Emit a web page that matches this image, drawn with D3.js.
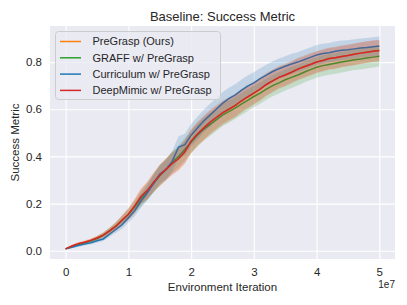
<!DOCTYPE html>
<html><head><meta charset="utf-8">
<script src="https://cdn.jsdelivr.net/npm/d3@7"></script>
<style>body{margin:0;background:#fff}svg{display:block}</style>
</head><body><svg id="c" width="407" height="305"></svg>
<script>
const xSteps = d3.range(51).map(i => i * 1e6);
const seriesNames = ["PreGrasp (Ours)", "GRAFF w/ PreGrasp", "Curriculum w/ PreGrasp", "DeepMimic w/ PreGrasp"];
const seriesColors = ["#ff7f0e", "#2ca02c", "#1f77b4", "#d62728"];
const xTicks = [0, 1e7, 2e7, 3e7, 4e7, 5e7];
const xTickLabels = ["0", "1", "2", "3", "4", "5"];
const yTicks = [0, 0.2, 0.4, 0.6, 0.8];
const yTickLabels = ["0.0", "0.2", "0.4", "0.6", "0.8"];

const orangeMean = [0.008,0.02,0.03,0.036,0.044,0.054,0.066,0.084,0.104,0.13,0.155,0.19,0.23,0.255,0.29,0.32,0.345,0.37,0.39,0.42,0.465,0.495,0.52,0.545,0.565,0.585,0.6,0.615,0.635,0.652,0.668,0.685,0.705,0.72,0.735,0.745,0.757,0.77,0.78,0.79,0.8,0.807,0.815,0.818,0.824,0.828,0.833,0.838,0.842,0.846,0.849];
const orangeSd = [0.003,0.005,0.006,0.007,0.008,0.01,0.012,0.015,0.018,0.022,0.026,0.03,0.034,0.038,0.042,0.046,0.048,0.05,0.051,0.052,0.053,0.053,0.054,0.054,0.053,0.053,0.052,0.052,0.051,0.051,0.05,0.05,0.05,0.049,0.049,0.049,0.048,0.048,0.048,0.048,0.047,0.047,0.047,0.047,0.046,0.046,0.046,0.046,0.046,0.046,0.046];
const greenMean = [0.008,0.018,0.026,0.033,0.042,0.052,0.066,0.085,0.105,0.128,0.155,0.185,0.22,0.25,0.285,0.318,0.345,0.375,0.4,0.43,0.46,0.49,0.515,0.535,0.555,0.575,0.59,0.605,0.622,0.638,0.654,0.668,0.685,0.7,0.712,0.725,0.735,0.745,0.757,0.768,0.778,0.785,0.79,0.795,0.8,0.805,0.81,0.813,0.817,0.821,0.825];
const greenSd = [0.002,0.004,0.005,0.006,0.007,0.009,0.011,0.013,0.016,0.019,0.023,0.027,0.031,0.035,0.039,0.042,0.044,0.045,0.046,0.047,0.047,0.048,0.048,0.048,0.047,0.047,0.047,0.046,0.046,0.046,0.046,0.045,0.045,0.045,0.045,0.045,0.045,0.044,0.044,0.044,0.044,0.044,0.044,0.044,0.044,0.044,0.044,0.044,0.044,0.044,0.044];
const blueMean = [0.008,0.015,0.022,0.028,0.034,0.042,0.05,0.07,0.09,0.11,0.14,0.17,0.21,0.245,0.285,0.325,0.345,0.38,0.44,0.45,0.49,0.52,0.55,0.575,0.6,0.625,0.645,0.66,0.68,0.698,0.712,0.73,0.745,0.76,0.772,0.782,0.792,0.8,0.81,0.82,0.83,0.836,0.84,0.846,0.85,0.852,0.856,0.86,0.862,0.865,0.868];
const blueSd = [0.002,0.004,0.005,0.006,0.007,0.008,0.009,0.011,0.014,0.017,0.02,0.024,0.028,0.032,0.036,0.04,0.042,0.044,0.046,0.046,0.047,0.048,0.048,0.048,0.047,0.047,0.046,0.046,0.045,0.045,0.045,0.044,0.044,0.044,0.043,0.043,0.043,0.042,0.042,0.042,0.042,0.042,0.041,0.041,0.041,0.041,0.041,0.04,0.04,0.04,0.04];
const redMean = [0.008,0.02,0.03,0.036,0.044,0.054,0.066,0.084,0.104,0.13,0.155,0.19,0.23,0.255,0.29,0.32,0.345,0.37,0.39,0.42,0.465,0.495,0.52,0.545,0.565,0.585,0.6,0.615,0.635,0.652,0.668,0.685,0.705,0.72,0.735,0.745,0.757,0.77,0.78,0.79,0.8,0.807,0.815,0.818,0.824,0.828,0.833,0.838,0.842,0.846,0.849];
const redSd = [0.002,0.004,0.005,0.006,0.007,0.009,0.011,0.014,0.017,0.02,0.024,0.028,0.032,0.036,0.04,0.043,0.045,0.046,0.047,0.048,0.048,0.048,0.049,0.049,0.048,0.048,0.047,0.047,0.047,0.046,0.046,0.046,0.046,0.046,0.045,0.045,0.045,0.045,0.045,0.045,0.045,0.045,0.045,0.045,0.045,0.045,0.045,0.045,0.045,0.045,0.045];

const means = [orangeMean, greenMean, blueMean, redMean];
const sds = [orangeSd, greenSd, blueSd, redSd];

const L = 50, R = 395, T = 26, B = 259;
const svg = d3.select("#c");
const x = d3.scaleLinear().domain([-0.25e7, 5.25e7]).range([L, R]);
const y = d3.scaleLinear().domain([-0.035, 0.953]).range([B, T]);
const font = "Liberation Sans, Arial, sans-serif";

svg.append("rect").attr("x", L).attr("y", T).attr("width", R - L).attr("height", B - T).attr("fill", "#eaeaf2");
svg.append("defs").append("clipPath").attr("id", "clip").append("rect")
  .attr("x", L).attr("y", T).attr("width", R - L).attr("height", B - T);

const gx = svg.append("g").attr("transform", `translate(0,${B})`)
  .call(d3.axisBottom(x).tickValues(xTicks).tickFormat((d, i) => xTickLabels[i]).tickSize(-(B - T)).tickPadding(9));
const gy = svg.append("g").attr("transform", `translate(${L},0)`)
  .call(d3.axisLeft(y).tickValues(yTicks).tickFormat((d, i) => yTickLabels[i]).tickSize(-(R - L)).tickPadding(8));
[gx, gy].forEach(g => {
  g.select(".domain").remove();
  g.selectAll(".tick line").attr("stroke", "#ffffff").attr("stroke-width", 1.1);
  g.selectAll(".tick text").attr("fill", "#262626").attr("font-family", font).attr("font-size", 11.5);
});

const plot = svg.append("g").attr("clip-path", "url(#clip)");
means.forEach((m, k) => {
  const area = d3.area().x((d, i) => x(xSteps[i])).y0((d, i) => y(m[i] - sds[k][i])).y1((d, i) => y(m[i] + sds[k][i]));
  plot.append("path").datum(m).attr("d", area).attr("fill", seriesColors[k]).attr("fill-opacity", 0.2);
  const line = d3.line().x((d, i) => x(xSteps[i])).y(d => y(d));
  plot.append("path").datum(m).attr("d", line).attr("fill", "none").attr("stroke", seriesColors[k]).attr("stroke-width", 1.5);
});

svg.append("text").attr("x", (L + R) / 2).attr("y", 21).attr("text-anchor", "middle")
  .attr("font-family", font).attr("font-size", 13).attr("fill", "#262626").text("Baseline: Success Metric");
svg.append("text").attr("x", (L + R) / 2).attr("y", 291).attr("text-anchor", "middle")
  .attr("font-family", font).attr("font-size", 11.5).attr("fill", "#262626").text("Environment Iteration");
svg.append("text").attr("transform", `translate(19,${(T + B) / 2}) rotate(-90)`).attr("text-anchor", "middle")
  .attr("font-family", font).attr("font-size", 11.5).attr("fill", "#262626").text("Success Metric");
svg.append("text").attr("x", R).attr("y", 288).attr("text-anchor", "end")
  .attr("font-family", font).attr("font-size", 10).attr("fill", "#262626").text("1e7");

const lg = svg.append("g");
lg.append("rect").attr("x", 55.5).attr("y", 31.5).attr("width", 165).attr("height", 68).attr("rx", 3)
  .attr("fill", "#eaeaf2").attr("fill-opacity", 0.8).attr("stroke", "#cccccc").attr("stroke-width", 1);
seriesNames.forEach((n, i) => {
  const yy = 41.5 + i * 16.3;
  lg.append("line").attr("x1", 60).attr("x2", 81).attr("y1", yy).attr("y2", yy)
    .attr("stroke", seriesColors[i]).attr("stroke-width", 1.5);
  lg.append("text").attr("x", 92.5).attr("y", yy + 3.8).attr("font-family", font).attr("font-size", 11)
    .attr("fill", "#262626").text(n);
});
</script></body></html>
